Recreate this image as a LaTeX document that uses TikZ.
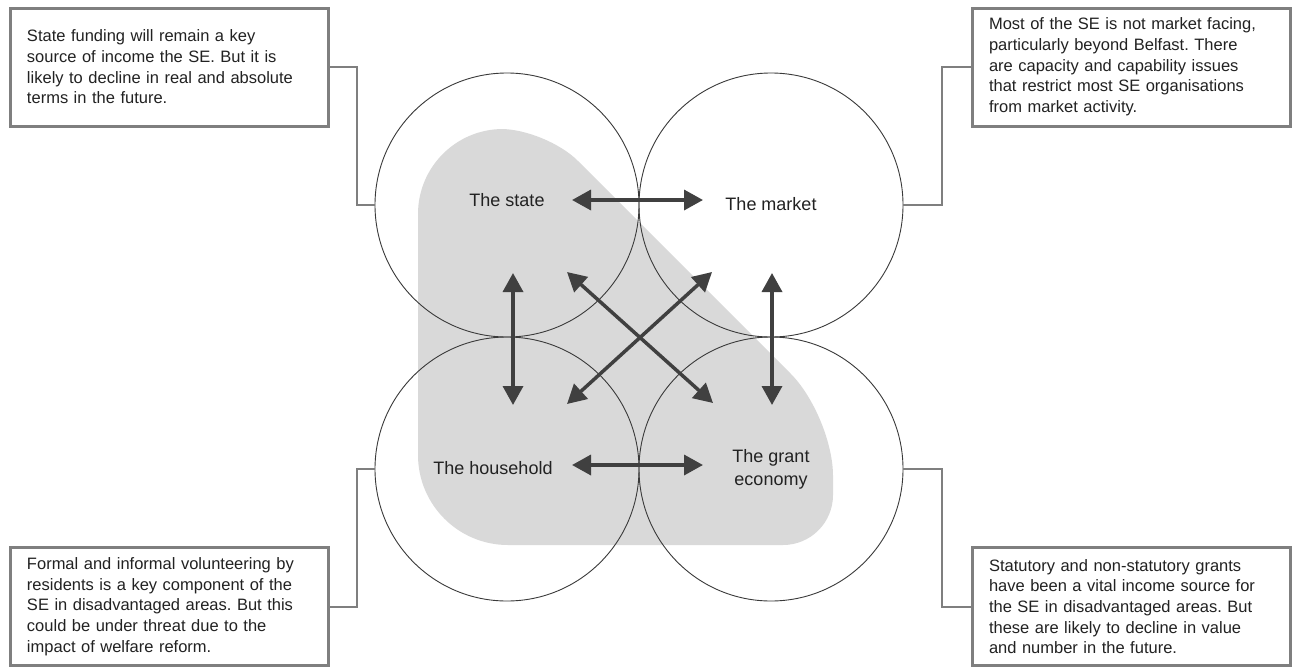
\documentclass[tikz,border=0pt]{standalone}
\usepackage{fontspec}
\setmainfont{Liberation Sans}
\frenchspacing
\usetikzlibrary{arrows.meta,shadows}
\definecolor{shapegrey}{HTML}{D9D9D9}
\definecolor{arrowgrey}{HTML}{404040}
\definecolor{circgrey}{HTML}{3A3A3A}
\definecolor{boxgrey}{HTML}{7F7F7F}
\definecolor{textgrey}{HTML}{222222}
\begin{document}
\begin{tikzpicture}[x=1pt,y=-1pt,
  sphere/.style={circle,draw=circgrey,line width=0.9pt,minimum size=264pt,inner sep=0pt},
  lbl/.style={font=\fontsize{18}{23}\selectfont,text=textgrey,align=center,inner sep=0pt},
  note/.style={draw=boxgrey,line width=3pt,fill=white,minimum width=318pt,minimum height=118pt,
    text width=284pt,align=left,inner sep=0pt,font=\fontsize{16.5}{20.7}\selectfont,text=textgrey,
    drop shadow={opacity=0.18,shadow xshift=1.5pt,shadow yshift=-1.5pt}},
  link/.style={draw=boxgrey,line width=2pt},
  dbl/.style={draw=arrowgrey,line width=3.5pt,{Triangle[length=19pt,width=20pt]}-{Triangle[length=19pt,width=20pt]}}
]
\useasboundingbox (0,0) rectangle (1292,667);
\fill[white] (0,0) rectangle (1292,667);

% grey shared region
\fill[shapegrey] (418,330) [rounded corners=85pt] -- (418,129) [rounded corners=45pt] -- (546,129)
  [rounded corners=60pt] -- (833,416) [rounded corners=50pt] -- (833,545) [rounded corners=90pt] -- (418,545) -- cycle;

% circles
\node[sphere] (cTL) at (507,205) {};
\node[sphere] (cTR) at (771,205) {};
\node[sphere] (cBL) at (507,469) {};
\node[sphere] (cBR) at (771,469) {};

% labels
\node[lbl] (lState) at (507,200) {The state};
\node[lbl] (lMarket) at (771,204) {The market};
\node[lbl] (lHouse) at (493,468) {The household};
\node[lbl] (lGrant) at (771,469) {The grant\\economy};

% arrow end points
\coordinate (smA) at (572,200); \coordinate (smB) at (703,200);
\coordinate (hgA) at (572,465); \coordinate (hgB) at (703,465);
\coordinate (lvA) at (513,273); \coordinate (lvB) at (513,405);
\coordinate (rvA) at (772,273); \coordinate (rvB) at (772,405);
\coordinate (d1A) at (567,272); \coordinate (d1B) at (713,403);
\coordinate (d2A) at (712,272); \coordinate (d2B) at (567,404);

\draw[dbl] (smA) -- (smB);
\draw[dbl] (hgA) -- (hgB);
\draw[dbl] (lvA) -- (lvB);
\draw[dbl] (rvA) -- (rvB);
\draw[dbl] (d1A) -- (d1B);
\draw[dbl] (d2A) -- (d2B);

% notes
\node[note] (nTL) at (169,67) {State funding will remain a key\\source of income the SE. But it is\\likely to decline in real and absolute\\terms in the future.};
\node[note] (nTR) at (1131,67) {Most of the SE is not market facing,\\particularly beyond Belfast. There\\are capacity and capability issues\\that restrict most SE organisations\\from market activity.};
\node[note] (nBL) at (169,606.5) {Formal and informal volunteering by\\residents is a key component of the\\SE in disadvantaged areas. But this\\could be under threat due to the\\impact of welfare reform.};
\node[note] (nBR) at (1131,606.5) {Statutory and non-statutory grants\\have been a vital income source for\\the SE in disadvantaged areas. But\\these are likely to decline in value\\and number in the future.};

% connectors
\draw[link] (nTL.east) -- ++(27,0) |- (cTL.west);
\draw[link] (nTR.west) -- ++(-29,0) |- (cTR.east);
\draw[link] (nBL.east) -- ++(27,0) |- (cBL.west);
\draw[link] (nBR.west) -- ++(-29,0) |- (cBR.east);
\end{tikzpicture}
\end{document}
